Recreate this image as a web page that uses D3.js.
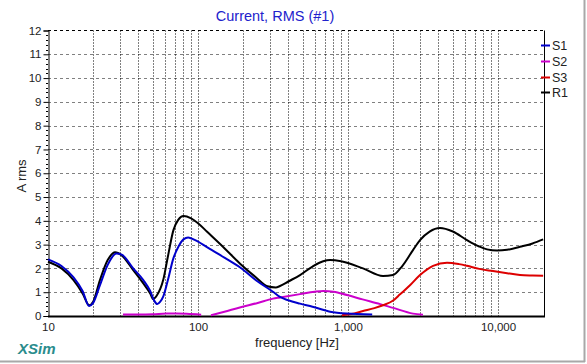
<!DOCTYPE html>
<html><head><meta charset="utf-8">
<script src="https://cdn.jsdelivr.net/npm/d3@7"></script>
<style>body{margin:0;background:#fff}svg{display:block;font-family:"Liberation Sans",Arial,sans-serif}</style>
</head><body><svg id="c" width="587" height="364"></svg>
<script>
// ---- data ----
const yTicks = [0,1,2,3,4,5,6,7,8,9,10,11,12];
const xTickValues = [10,100,1000,10000];
const xTickLabels = ["10","100","1,000","10,000"];
const seriesNames = ["S1","S2","S3","R1"];
const seriesColors = ["#0000cc","#cc00cc","#dd0000","#000000"];

const r1Freq = [10,12.3,14.8,17,18.8,20,22.2,25,28,31,37,43.2,48,50.3,53,58.6,63,68.5,74,80,90,100,115,150,190,246,290,330,352,400,479,580,684,759,900,1259,1711,1995,2300,2712,3020,3500,4105,5000,6210,7500,8450,9850,11500,14020,17000,20000];
const r1Amps = [2.28,2.0,1.51,0.95,0.45,0.6,1.51,2.35,2.68,2.55,1.93,1.37,0.95,0.71,0.85,1.51,2.5,3.6,4.05,4.2,4.1,3.9,3.54,2.85,2.21,1.6,1.25,1.2,1.26,1.45,1.72,2.08,2.3,2.35,2.3,2.0,1.68,1.72,2.1,2.77,3.19,3.55,3.7,3.55,3.19,2.92,2.8,2.75,2.78,2.91,3.05,3.22];

const s1Freq = [10,12.3,14.8,17,18.8,20,22.2,25,28.5,31,37,43.2,48,51,53.5,56,58.6,63,68.5,74,80,86,95,114,150,190,250,316,352,400,479,580,760,980,1450];
const s1Amps = [2.38,2.1,1.62,1.05,0.42,0.55,1.3,2.15,2.63,2.58,2.0,1.51,1.05,0.65,0.5,0.6,0.81,1.51,2.42,2.91,3.22,3.3,3.2,2.91,2.45,2.05,1.45,1.02,0.8,0.66,0.52,0.39,0.18,0.1,0.06];

const s2Freq = [31.6,40,50,62,72,84,105,null,122,150,190,250,316,352,479,600,684,800,985,1250,1640,2000,2712,3160];
const s2Amps = [0.06,0.06,0.07,0.1,0.1,0.09,0.05,null,0.03,0.18,0.36,0.55,0.73,0.78,0.92,1.02,1.05,1.02,0.88,0.7,0.5,0.34,0.1,0.05];

const s3Freq = [912,1050,1259,1500,1711,2000,2223,2600,3020,3690,4571,5500,6210,7500,9260,11500,14020,17000,20000];
const s3Amps = [0.03,0.08,0.21,0.33,0.45,0.65,0.91,1.3,1.72,2.11,2.24,2.18,2.11,1.98,1.89,1.8,1.72,1.7,1.69];

// ---- chart ----
const svg = d3.select("#c");
const L = 48, R = 544, T = 30.5, B = 316;
const x = d3.scaleLog().domain([10,20000]).range([L, L + 150*Math.log10(2000)]);
const y = d3.scaleLinear().domain([0,12]).range([B, T]);

// window border
svg.append("line").attr("x1",584.5).attr("x2",584.5).attr("y1",0).attr("y2",362).attr("stroke","#a8a8a8").attr("stroke-width",2);
svg.append("line").attr("x1",0).attr("x2",585).attr("y1",361.5).attr("y2",361.5).attr("stroke","#a8a8a8").attr("stroke-width",2);

// title
svg.append("text").attr("x",275).attr("y",21).attr("text-anchor","middle")
  .attr("font-size",14.5).attr("fill","#2222cc").text("Current, RMS (#1)");

// horizontal grid
const g = svg.append("g");
g.selectAll("line.h").data(yTicks.filter(v=>v>0 && v<12)).join("line")
  .attr("x1",L).attr("x2",R).attr("y1",d=>Math.round(y(d))+0.5).attr("y2",d=>Math.round(y(d))+0.5)
  .attr("stroke","#808080").attr("stroke-dasharray","3,3");
g.append("line").attr("x1",L).attr("x2",R).attr("y1",T).attr("y2",T)
  .attr("stroke","#000").attr("stroke-dasharray","3,3");

// vertical grid (log minor)
const vLines = [];
for (let d = 10; d < 20000; d *= 10) for (let k = 1; k <= 9; k++) { const f = d*k; if (f > 10 && f < 20000) vLines.push(f); }
g.selectAll("line.v").data(vLines).join("line")
  .attr("x1",d=>Math.round(x(d))+0.5).attr("x2",d=>Math.round(x(d))+0.5).attr("y1",T).attr("y2",B)
  .attr("stroke","#000").attr("stroke-dasharray","1,2");

// frame
svg.append("line").attr("x1",R+0.5).attr("x2",R+0.5).attr("y1",T).attr("y2",B+1).attr("stroke","#000");
svg.append("line").attr("x1",L).attr("x2",R+1).attr("y1",B+0.5).attr("y2",B+0.5).attr("stroke","#000").attr("stroke-width",2);

// y axis
const yAxis = d3.axisLeft(y).tickValues(yTicks).tickSize(5).tickPadding(2).tickFormat(d3.format("d"));
const ya = svg.append("g").attr("transform",`translate(${L+0.5},0)`).call(yAxis);
ya.select(".domain").attr("stroke","#000");
ya.selectAll("text").attr("font-size",11.5).attr("font-family","Liberation Sans, Arial").attr("fill","#222");
const minor = d3.range(0,12.01,0.2).filter(v=>Math.abs(v-Math.round(v))>0.01);
svg.append("g").selectAll("line").data(minor).join("line")
  .attr("x1",L-2).attr("x2",L).attr("y1",d=>Math.round(y(d))+0.5).attr("y2",d=>Math.round(y(d))+0.5).attr("stroke","#000");

// x axis labels
const xAxis = d3.axisBottom(x).tickValues(xTickValues).tickSize(0).tickPadding(7).tickFormat((d,i)=>xTickLabels[i]);
const xa = svg.append("g").attr("transform",`translate(0,${B})`).call(xAxis);
xa.select(".domain").remove();
xa.selectAll("text").attr("font-size",11.5).attr("font-family","Liberation Sans, Arial").attr("fill","#222");

// axis titles
svg.append("text").attr("transform","translate(26,176) rotate(-90)").attr("text-anchor","middle")
  .attr("font-size",13).attr("fill","#222").text("A rms");
svg.append("text").attr("x",297).attr("y",347).attr("text-anchor","middle")
  .attr("font-size",13).attr("fill","#222").text("frequency [Hz]");
svg.append("text").attr("x",18).attr("y",354).attr("font-size",15).attr("font-weight","bold")
  .attr("font-style","italic").attr("fill","#2a8c8c").text("XSim");

// curves
const line = d3.line().defined(d=>d[0]!==null).x(d=>x(d[0])).y(d=>y(d[1])).curve(d3.curveMonotoneX);
const series = [
  [s2Freq,s2Amps,seriesColors[1]],
  [s3Freq,s3Amps,seriesColors[2]],
  [r1Freq,r1Amps,seriesColors[3]],
  [s1Freq,s1Amps,seriesColors[0]]
];
const cg = svg.append("g");
series.forEach(([fs,vs,col])=>{
  cg.append("path").datum(fs.map((f,i)=>[f,vs[i]])).attr("d",line)
    .attr("fill","none").attr("stroke",col).attr("stroke-width",2).attr("stroke-linejoin","round");
});

// legend
const legY = [45,61,77,92];
const lg = svg.append("g");
seriesNames.forEach((n,i)=>{
  lg.append("line").attr("x1",541).attr("x2",550).attr("y1",legY[i]+0.5).attr("y2",legY[i]+0.5)
    .attr("stroke",seriesColors[i]).attr("stroke-width",2);
  lg.append("text").attr("x",552).attr("y",legY[i]+4.5).attr("font-size",12.5).attr("fill","#222").text(n);
});
</script></body></html>
